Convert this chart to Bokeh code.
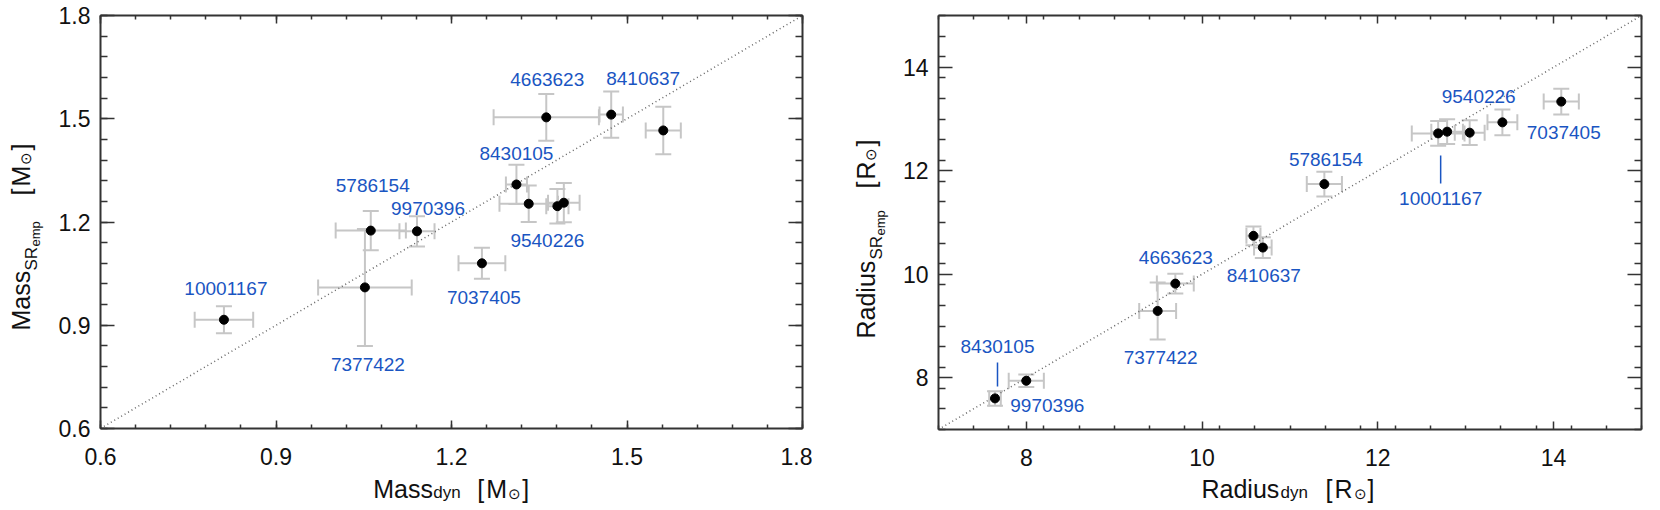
import numpy as np
from bokeh.plotting import figure
from bokeh.models import (Range1d, FixedTicker, LinearAxis, Whisker, TeeHead,
                          ColumnDataSource, Label)
from bokeh.core.properties import value
from bokeh.layouts import row, column
from bokeh.embed import file_html
from bokeh.resources import INLINE

# ---------------- data ----------------
mass_ids = ["10001167", "7377422", "5786154", "9970396", "8430105", "4663623",
            "8410637", "", "7037405", "", "9540226", ""]
mass_dyn = [0.811, 1.052, 1.062, 1.141, 1.311, 1.362, 1.473, 1.562, 1.252, 1.332, 1.381, 1.392]
mass_dyn_err = [0.050, 0.080, 0.060, 0.030, 0.018, 0.090, 0.020, 0.030, 0.040, 0.050, 0.019, 0.027]
mass_emp = [0.916, 1.010, 1.175, 1.173, 1.309, 1.504, 1.512, 1.466, 1.080, 1.253, 1.246, 1.256]
mass_emp_err = [0.039, 0.170, 0.057, 0.044, 0.057, 0.068, 0.067, 0.069, 0.045, 0.053, 0.050, 0.057]

rad_ids = ["8430105", "9970396", "7377422", "4663623", "8410637", "", "5786154",
           "10001167", "9540226", "", "", "7037405"]
rad_dyn = [7.643, 7.999, 9.494, 9.695, 10.691, 10.584, 11.391, 12.686, 13.045, 12.788, 13.417, 14.087]
rad_dyn_err = [0.066, 0.20, 0.21, 0.21, 0.10, 0.08, 0.20, 0.30, 0.17, 0.18, 0.17, 0.20]
rad_emp = [7.601, 7.942, 9.291, 9.819, 10.516, 10.742, 11.742, 12.722, 12.736, 12.755, 12.935, 13.336]
rad_emp_err = [0.14, 0.12, 0.55, 0.19, 0.20, 0.18, 0.24, 0.24, 0.24, 0.24, 0.25, 0.25]

mass_ticks = [0.6, 0.9, 1.2, 1.5, 1.8]
rad_ticks = [8, 10, 12, 14]

SUN = "\u2299"
mass_x_label = [("Mass", 25, 0, 0), ("dyn", 17, 60, 4), ("[", 25, 104, 0), ("M", 25, 113, 0), (SUN, 15, 135, 5), ("]", 25, 149, 0)]
mass_y_label = [("Mass", 25, 0, 0), ("SR", 17, 60, 11), ("emp", 13, 84, 15), ("[", 25, 135, 0), ("M", 25, 144, 0), (SUN, 15, 166, 5), ("]", 25, 180, 0)]
rad_x_label = [("Radius", 25, 0, 0), ("dyn", 17, 79, 4), ("[", 25, 124, 0), ("R", 25, 133, 0), (SUN, 15, 152, 5), ("]", 25, 166, 0)]
rad_y_label = [("Radius", 25, 0, 0), ("SR", 17, 79, 11), ("emp", 13, 103, 15), ("[", 25, 150, 0), ("R", 25, 159, 0), (SUN, 15, 178, 5), ("]", 25, 192, 0)]

# ---------------- style ----------------
FONT = "Liberation Sans"
BLUE = "#1a55c2"
ERRC = "#c6c6c6"
AXC = "#333333"
TXT = "#111111"
BASE_FIX = 10  # empirical shift of text-glyph baseline (px)

# label offsets in screen px (dx right, dy down) + optional leader line (dy from, dy to)
mass_lab_style = {"10001167": (2, -31), "7377422": (3, 77), "5786154": (2, -45),
                  "9970396": (11, -23), "8430105": (0, -31), "4663623": (1, -38),
                  "8410637": (32, -36), "9540226": (-10, 34), "7037405": (2, 34)}
rad_lab_style = {"8430105": (2.5, -52, -12, -36), "9970396": (21, 25), "7377422": (3, 47),
                 "4663623": (0.5, -26), "8410637": (1, 28), "5786154": (1.5, -25),
                 "10001167": (2.5, 65, 22, 50), "9540226": (9, -36), "7037405": (2.5, 31)}


def label_fig(w, h):
    f = figure(frame_width=w, frame_height=h, x_range=Range1d(0, w), y_range=Range1d(0, h),
               output_backend="svg", toolbar_location=None, min_border=0, title=None,
               x_axis_type=None, y_axis_type=None, outline_line_color=None,
               background_fill_color="white", border_fill_color="white")
    return f


def compound(f, pieces, x0, y0, vertical):
    xs, ys, txt, sizes = [], [], [], []
    for t, size, start, shift in pieces:
        if vertical:
            xs.append(x0 - BASE_FIX + shift)
            ys.append(y0 + start)
        else:
            xs.append(x0 + start)
            ys.append(y0 + BASE_FIX - shift)
        txt.append(t)
        sizes.append(f"{size}px")
    src = ColumnDataSource(dict(x=xs, y=ys, text=txt, size=sizes))
    f.text(x="x", y="y", text="text", source=src, text_font_size="size",
           text_font=value(FONT), text_color=TXT, text_align="left",
           text_baseline="alphabetic", angle=(np.pi / 2 if vertical else 0.0))


def style_axis(ax, major, minor, labels=True):
    ax.axis_line_color = AXC
    ax.axis_line_width = 2
    ax.major_tick_in = major
    ax.major_tick_out = 0
    ax.minor_tick_in = minor
    ax.minor_tick_out = 0
    ax.major_tick_line_color = AXC
    ax.minor_tick_line_color = AXC
    ax.major_tick_line_width = 1.5
    ax.minor_tick_line_width = 1.5
    ax.axis_label = None
    if labels:
        ax.major_label_text_font = FONT
        ax.major_label_text_font_size = "23px"
        ax.major_label_text_color = TXT
        ax.major_label_standoff = 10
    else:
        ax.major_label_text_font_size = "1px"
        ax.major_label_text_color = None
        ax.major_label_standoff = 0


def panel(xs, xe, ys, ye, ids, labstyle, lo, hi, ticks, minor_step,
          fw, fh, bl, br, bt, bb):
    p = figure(frame_width=fw, frame_height=fh, x_range=Range1d(lo, hi),
               y_range=Range1d(lo, hi), output_backend="svg", toolbar_location=None,
               min_border_left=bl, min_border_right=br, min_border_top=bt,
               min_border_bottom=bb, background_fill_color="white", title=None,
               border_fill_color="white", outline_line_color=None)
    p.xgrid.visible = False
    p.ygrid.visible = False
    minors = list(np.round(np.arange(lo, hi + 1e-9, minor_step), 4))
    ticker = FixedTicker(ticks=ticks, minor_ticks=minors)
    p.xaxis.ticker = ticker
    p.yaxis.ticker = ticker
    style_axis(p.xaxis[0], 8, 4)
    style_axis(p.yaxis[0], 14, 7)
    p.xaxis[0].major_label_standoff = 19
    top = LinearAxis(ticker=ticker)
    right = LinearAxis(ticker=ticker)
    style_axis(top, 8, 4, labels=False)
    style_axis(right, 14, 7, labels=False)
    p.add_layout(top, "above")
    p.add_layout(right, "right")

    # 1:1 line
    p.line([lo, hi], [lo, hi], line_color="#666666", line_width=1.5, line_dash="1 3")

    xs_a, xe_a, ys_a, ye_a = map(np.asarray, (xs, xe, ys, ye))
    src = ColumnDataSource(dict(x=xs_a, y=ys_a, xl=xs_a - xe_a, xu=xs_a + xe_a,
                                yl=ys_a - ye_a, yu=ys_a + ye_a))
    for base, lw, up, dim in [("y", "xl", "xu", "width"), ("x", "yl", "yu", "height")]:
        w = Whisker(source=src, base=base, lower=lw, upper=up, dimension=dim,
                    line_color=ERRC, line_width=2,
                    lower_head=TeeHead(size=16, line_color=ERRC, line_width=2),
                    upper_head=TeeHead(size=16, line_color=ERRC, line_width=2))
        p.add_layout(w)
    p.scatter("x", "y", source=src, size=9, fill_color="black", line_color="black")

    pxu_x = fw / (hi - lo)
    pxu_y = fh / (hi - lo)
    for i, name in enumerate(ids):
        if not name:
            continue
        st = labstyle[name]
        lab = Label(x=xs[i], y=ys[i], x_offset=st[0], y_offset=-st[1], text=name,
                    text_font=FONT, text_font_size="19px", text_color=BLUE,
                    text_align="center", text_baseline="middle")
        p.add_layout(lab)
        if len(st) == 4:
            xx = xs[i] + st[0] / pxu_x
            p.segment(x0=[xx], y0=[ys[i] - st[2] / pxu_y], x1=[xx], y1=[ys[i] - st[3] / pxu_y],
                      line_color=BLUE, line_width=1.5)
    return p


# layout (page px): ylab1 0..53 | p1 53..812 (frame 100..802) | ylab2 812..896 | p2 896..1647 (frame 938..1641)
ROW_H = 476
p1 = panel(mass_dyn, mass_dyn_err, mass_emp, mass_emp_err, mass_ids, mass_lab_style,
           0.6, 1.8, mass_ticks, 0.06, 702, 413, 47, 10, 15, ROW_H - 15 - 413)
p2 = panel(rad_dyn, rad_dyn_err, rad_emp, rad_emp_err, rad_ids, rad_lab_style,
           7.0, 15.0, rad_ticks, 0.4, 703, 414, 42, 6, 15, ROW_H - 15 - 414)

XLAB_H = 34
ylab1 = label_fig(53, ROW_H)
ylab2 = label_fig(84, ROW_H)
xlab = label_fig(1647, XLAB_H)

compound(ylab1, mass_y_label, 30, ROW_H - 315, True)
compound(ylab2, rad_y_label, 875 - 812, ROW_H - 323, True)
compound(xlab, mass_x_label, 372.7, ROW_H + XLAB_H - 498, False)
compound(xlab, rad_x_label, 1201, ROW_H + XLAB_H - 498, False)

layout = column(row(ylab1, p1, ylab2, p2), xlab)
open("out.html", "w").write(file_html(layout, INLINE))
